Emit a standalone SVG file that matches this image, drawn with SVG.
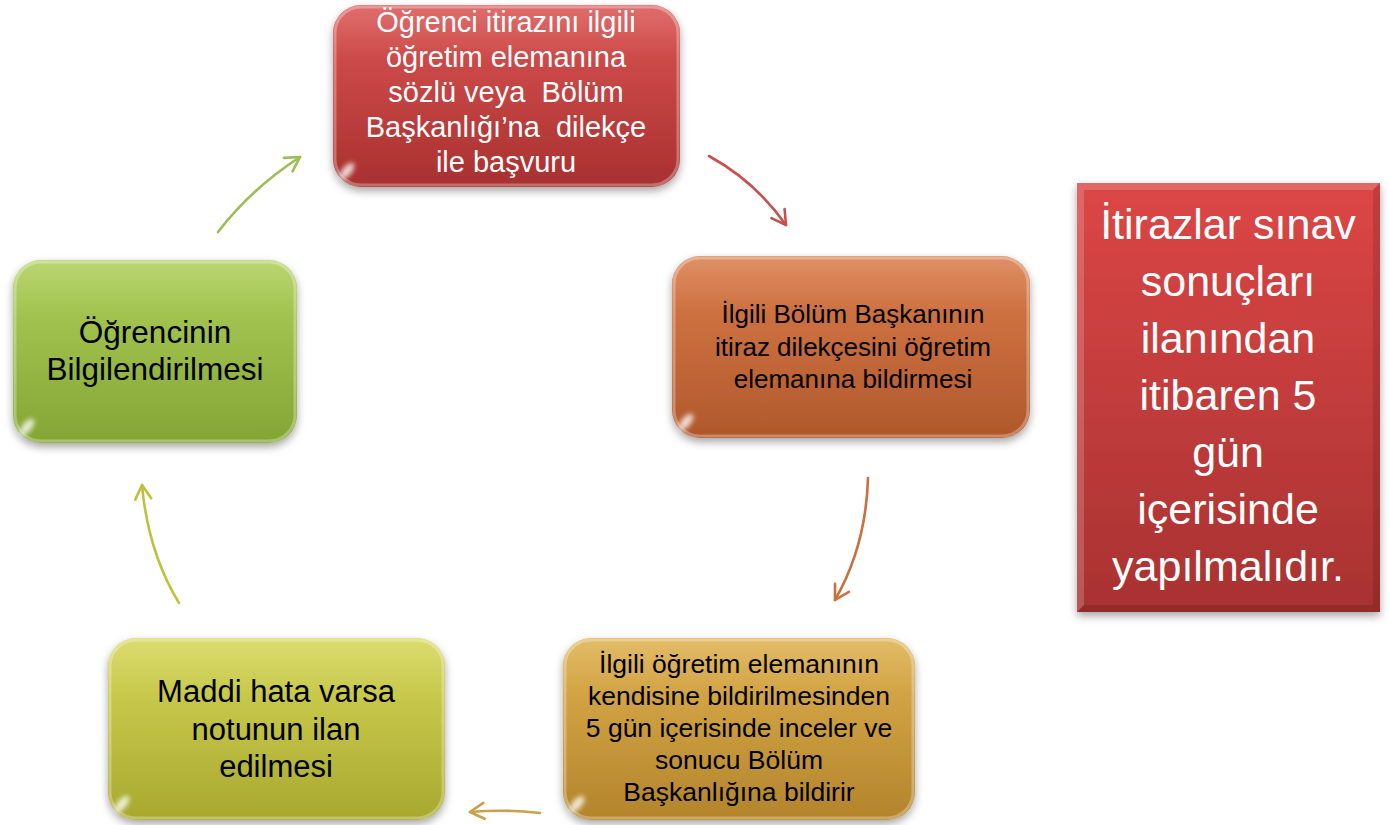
<svg xmlns="http://www.w3.org/2000/svg" width="1389" height="825" viewBox="0 0 1389 825">
<defs>
<style>
.t{font-family:"Liberation Sans",Arial,sans-serif;text-anchor:middle;white-space:pre}
.w{fill:#ffffff}
.b{fill:#000000}
.gloss{fill:url(#gloss)}
.bevel{fill:none;stroke:#ffffff;stroke-opacity:0.3;stroke-width:3}
.shine{fill:#ffffff;opacity:0.8;filter:url(#blur)}
.arr{fill:none;stroke-width:2.6;stroke-linecap:round}
</style>
<filter id="shadow" x="-10%" y="-10%" width="120%" height="130%">
<feDropShadow dx="0" dy="4" stdDeviation="4" flood-color="#000" flood-opacity="0.35"/>
</filter>
<filter id="blur" x="-50%" y="-50%" width="200%" height="200%"><feGaussianBlur stdDeviation="2.5"/></filter>
<linearGradient id="gloss" x1="0" y1="0" x2="0" y2="1">
<stop offset="0" stop-color="#fff" stop-opacity="0.2"/>
<stop offset="0.3" stop-color="#fff" stop-opacity="0.04"/>
<stop offset="1" stop-color="#fff" stop-opacity="0"/>
</linearGradient>
<linearGradient id="gRed" x1="0" y1="0" x2="0" y2="1"><stop offset="0" stop-color="#d84a48"/><stop offset="1" stop-color="#a8302f"/></linearGradient>
<linearGradient id="gOrange" x1="0" y1="0" x2="0" y2="1"><stop offset="0" stop-color="#d77440"/><stop offset="1" stop-color="#b0582b"/></linearGradient>
<linearGradient id="gGold" x1="0" y1="0" x2="0" y2="1"><stop offset="0" stop-color="#dcac44"/><stop offset="1" stop-color="#b3842b"/></linearGradient>
<linearGradient id="gOlive" x1="0" y1="0" x2="0" y2="1"><stop offset="0" stop-color="#d3d44e"/><stop offset="1" stop-color="#a7a82e"/></linearGradient>
<linearGradient id="gGreen" x1="0" y1="0" x2="0" y2="1"><stop offset="0" stop-color="#a9cc4f"/><stop offset="1" stop-color="#84a535"/></linearGradient>
<linearGradient id="gBox" x1="0" y1="0" x2="0" y2="1"><stop offset="0" stop-color="#dc4646"/><stop offset="1" stop-color="#a83231"/></linearGradient>
<marker id="mRed" markerUnits="userSpaceOnUse" markerWidth="30" markerHeight="30" refX="0" refY="0" viewBox="-20 -15 30 30" orient="auto"><path d="M-14,-8 L0,0 L-14,8" fill="none" stroke="#c9504d" stroke-width="2.6" stroke-linecap="round" stroke-linejoin="round"/></marker>
<marker id="mOrange" markerUnits="userSpaceOnUse" markerWidth="30" markerHeight="30" refX="0" refY="0" viewBox="-20 -15 30 30" orient="auto"><path d="M-14,-8 L0,0 L-14,8" fill="none" stroke="#c8703f" stroke-width="2.6" stroke-linecap="round" stroke-linejoin="round"/></marker>
<marker id="mGold" markerUnits="userSpaceOnUse" markerWidth="30" markerHeight="30" refX="0" refY="0" viewBox="-20 -15 30 30" orient="auto"><path d="M-14,-8 L0,0 L-14,8" fill="none" stroke="#c9a04c" stroke-width="2.6" stroke-linecap="round" stroke-linejoin="round"/></marker>
<marker id="mOlive" markerUnits="userSpaceOnUse" markerWidth="30" markerHeight="30" refX="0" refY="0" viewBox="-20 -15 30 30" orient="auto"><path d="M-14,-8 L0,0 L-14,8" fill="none" stroke="#bcc23e" stroke-width="2.6" stroke-linecap="round" stroke-linejoin="round"/></marker>
<marker id="mGreen" markerUnits="userSpaceOnUse" markerWidth="30" markerHeight="30" refX="0" refY="0" viewBox="-20 -15 30 30" orient="auto"><path d="M-14,-8 L0,0 L-14,8" fill="none" stroke="#9bbe55" stroke-width="2.6" stroke-linecap="round" stroke-linejoin="round"/></marker>
</defs>
<rect width="1389" height="825" fill="#ffffff"/>

<g id="connectors">
<path class="arr" d="M709,156 Q756,182 786,225" stroke="#c9504d" marker-end="url(#mRed)"/>
<path class="arr" d="M868,478 Q866,546 835,600" stroke="#c8703f" marker-end="url(#mOrange)"/>
<path class="arr" d="M540,813 Q505,809 470,812" stroke="#c9a04c" marker-end="url(#mGold)"/>
<path class="arr" d="M179,603 Q148,552 142,485" stroke="#bcc23e" marker-end="url(#mOlive)"/>
<path class="arr" d="M218,232 Q252,188 300,157" stroke="#9bbe55" marker-end="url(#mGreen)"/>
</g>

<g id="node1">
<rect x="333" y="5" width="347" height="182" rx="28" fill="url(#gRed)" filter="url(#shadow)"/>
<rect x="333" y="5" width="347" height="182" rx="28" class="gloss"/>
<rect x="335" y="7" width="343" height="178" rx="26" class="bevel"/>
<ellipse cx="347" cy="171" rx="10" ry="4.5" transform="rotate(-50 347 171)" class="shine"/>
<text class="t w" font-size="29"><tspan x="506" y="32">Öğrenci itirazını ilgili</tspan><tspan x="506" y="67">öğretim elemanına</tspan><tspan x="506" y="102">sözlü veya  Bölüm</tspan><tspan x="506" y="137">Başkanlığı’na  dilekçe</tspan><tspan x="506" y="172">ile başvuru</tspan></text>
</g>

<g id="node2">
<rect x="672" y="256" width="358" height="182" rx="28" fill="url(#gOrange)" filter="url(#shadow)"/>
<rect x="672" y="256" width="358" height="182" rx="28" class="gloss"/>
<rect x="674" y="258" width="354" height="178" rx="26" class="bevel"/>
<ellipse cx="686" cy="422" rx="10" ry="4.5" transform="rotate(-50 686 422)" class="shine"/>
<text class="t b" font-size="26"><tspan x="853" y="323">İlgili Bölüm Başkanının</tspan><tspan x="853" y="355.5">itiraz dilekçesini öğretim</tspan><tspan x="853" y="388">elemanına bildirmesi</tspan></text>
</g>

<g id="node3">
<rect x="563" y="638" width="352" height="182" rx="28" fill="url(#gGold)" filter="url(#shadow)"/>
<rect x="563" y="638" width="352" height="182" rx="28" class="gloss"/>
<rect x="565" y="640" width="348" height="178" rx="26" class="bevel"/>
<ellipse cx="577" cy="804" rx="10" ry="4.5" transform="rotate(-50 577 804)" class="shine"/>
<text class="t b" font-size="26.5"><tspan x="739" y="673">İlgili öğretim elemanının</tspan><tspan x="739" y="705">kendisine bildirilmesinden</tspan><tspan x="739" y="737">5 gün içerisinde inceler ve</tspan><tspan x="739" y="769">sonucu Bölüm</tspan><tspan x="739" y="801">Başkanlığına bildirir</tspan></text>
</g>

<g id="node4">
<rect x="108" y="638" width="337" height="182" rx="28" fill="url(#gOlive)" filter="url(#shadow)"/>
<rect x="108" y="638" width="337" height="182" rx="28" class="gloss"/>
<rect x="110" y="640" width="333" height="178" rx="26" class="bevel"/>
<ellipse cx="122" cy="804" rx="10" ry="4.5" transform="rotate(-50 122 804)" class="shine"/>
<text class="t b" font-size="31"><tspan x="276" y="702">Maddi hata varsa</tspan><tspan x="276" y="739.5">notunun ilan</tspan><tspan x="276" y="777">edilmesi</tspan></text>
</g>

<g id="node5">
<rect x="13" y="260" width="284" height="183" rx="28" fill="url(#gGreen)" filter="url(#shadow)"/>
<rect x="13" y="260" width="284" height="183" rx="28" class="gloss"/>
<rect x="15" y="262" width="280" height="179" rx="26" class="bevel"/>
<ellipse cx="27" cy="427" rx="10" ry="4.5" transform="rotate(-50 27 427)" class="shine"/>
<text class="t b" font-size="31.5"><tspan x="155" y="343">Öğrencinin</tspan><tspan x="155" y="380">Bilgilendirilmesi</tspan></text>
</g>

<g id="note">
<rect x="1077" y="183" width="303" height="429" fill="url(#gBox)" filter="url(#shadow)"/>
<path d="M1077,183 H1380 L1373,190 H1084 V605 L1077,612 Z" fill="#ffffff" fill-opacity="0.18"/>
<path d="M1380,183 V612 H1077 L1084,605 H1373 V190 Z" fill="#000000" fill-opacity="0.12"/>
<text class="t w" font-size="43"><tspan x="1228" y="239">İtirazlar sınav</tspan><tspan x="1228" y="296">sonuçları</tspan><tspan x="1228" y="353">ilanından</tspan><tspan x="1228" y="410">itibaren 5</tspan><tspan x="1228" y="467">gün</tspan><tspan x="1228" y="524">içerisinde</tspan><tspan x="1228" y="581">yapılmalıdır.</tspan></text>
</g>
</svg>
